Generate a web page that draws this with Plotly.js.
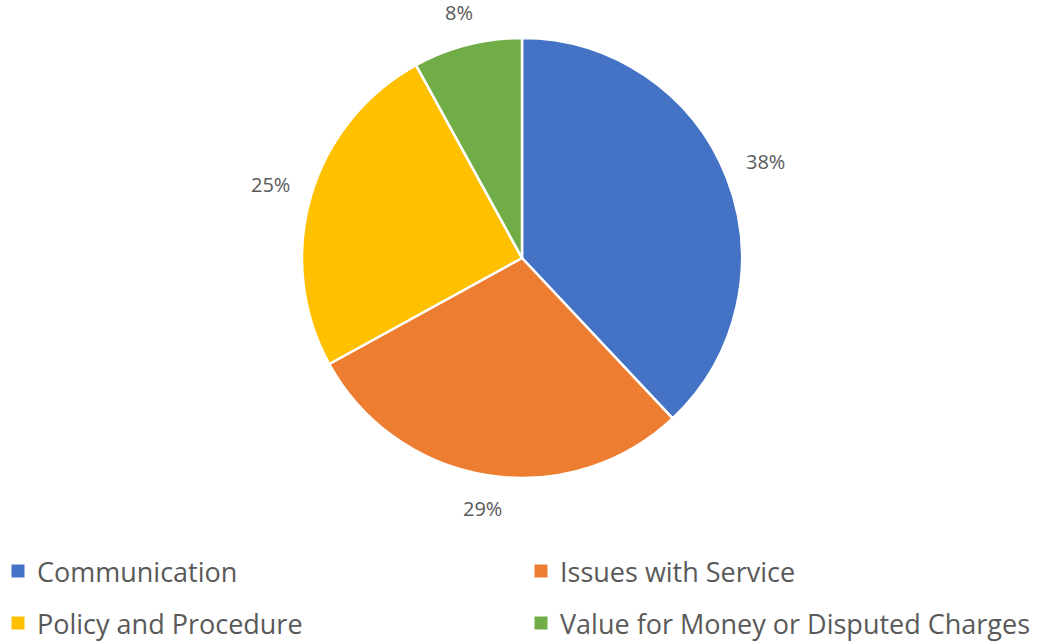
<!DOCTYPE html>
<html>
<head>
<meta charset="utf-8">
<script src="https://cdn.plot.ly/plotly-3.0.1.min.js"></script>
<style>html,body{margin:0;padding:0;background:#fff;}#chart{width:1051px;height:643px;}</style>
</head>
<body>
<div id="chart"></div>
<script>
const categories = ["Communication", "Issues with Service", "Policy and Procedure", "Value for Money or Disputed Charges"];
const values = [38, 29, 25, 8];
const colors = ["#4472C4", "#ED7D31", "#FFC000", "#70AD47"];

const W = 1051, H = 643;
const cx = 522, cy = 258, R = 220;
const pctFont = 20, legFont = 27;
const textColor = "#595959";

const total = values.reduce((a, b) => a + b, 0);
const annotations = [];
const shapes = [];

// percentage labels outside slices
let cum = 0;
values.forEach((v, i) => {
  const mid = (cum + v / 2) / total * 2 * Math.PI;
  cum += v;
  const s = Math.sin(mid), c = Math.cos(mid);
  const txt = Math.round(v / total * 100) + "%";
  const halfW = txt.length * pctFont * 0.3;
  const halfH = pctFont * 0.45;
  const d = R + 22 + Math.abs(s) * halfW + Math.abs(c) * halfH;
  const px = cx + d * s, py = cy - d * c;
  annotations.push({
    xref: "paper", yref: "paper", x: px / W, y: 1 - py / H,
    xanchor: "center", yanchor: "middle", showarrow: false,
    text: txt, font: {family: "Open Sans, sans-serif", size: pctFont, color: textColor}
  });
});

// custom legend in two columns
const colX = [18, 541], rowY = [571, 623];
categories.forEach((name, i) => {
  const col = i % 2, row = Math.floor(i / 2);
  const sx = colX[col], sy = rowY[row];
  shapes.push({
    type: "rect", xref: "paper", yref: "paper", xsizemode: "pixel", ysizemode: "pixel",
    xanchor: sx / W, yanchor: 1 - sy / H, x0: -6.5, x1: 6.5, y0: -6.5, y1: 6.5,
    fillcolor: colors[i], line: {width: 0}
  });
  annotations.push({
    xref: "paper", yref: "paper", x: (sx + 18) / W, y: 1 - sy / H,
    xanchor: "left", yanchor: "middle", showarrow: false, borderpad: 0,
    text: name, font: {family: "Open Sans, sans-serif", size: legFont, color: textColor}
  });
});

const trace = {
  type: "pie",
  labels: categories,
  values: values,
  sort: false,
  direction: "clockwise",
  rotation: 0,
  textinfo: "none",
  hoverinfo: "label+percent",
  marker: {colors: colors, line: {color: "#ffffff", width: 2.5}},
  domain: {x: [(cx - R) / W, (cx + R) / W], y: [1 - (cy + R) / H, 1 - (cy - R) / H]}
};

const layout = {
  width: W, height: H,
  margin: {l: 0, r: 0, t: 0, b: 0},
  paper_bgcolor: "#ffffff",
  showlegend: false,
  annotations: annotations,
  shapes: shapes
};

Plotly.newPlot("chart", [trace], layout, {displayModeBar: false, staticPlot: true});
</script>
</body>
</html>
